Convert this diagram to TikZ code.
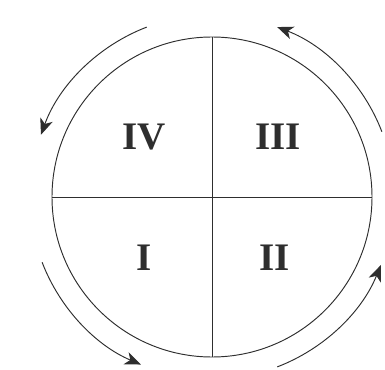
\documentclass[tikz,border=0pt]{standalone}
\usepackage{fontspec}
\setmainfont{Liberation Serif}
\usepackage{xcolor}
\usetikzlibrary{arrows.meta}
\definecolor{ink}{HTML}{2E2E2E}

\begin{document}
\begin{tikzpicture}[
  x=1pt, y=1pt,
  rim/.style={draw=ink, line width=0.95pt},
  turn/.style={draw=ink, line width=0.95pt, -{Stealth[length=16pt,width=13pt,inset=4.5pt]}},
  quad/.style={font=\fontsize{39}{41}\selectfont\bfseries, text=ink}
]

\useasboundingbox (-212,-172) rectangle (173,197);

\def\rin{160}
\def\rout{182}

% wheel and quadrants
\draw[rim] (0,0) circle (\rin);
\coordinate (w) at (-\rin,0);
\coordinate (e) at (\rin,0);
\coordinate (n) at (0,\rin);
\coordinate (s) at (0,-\rin);
\draw[rim] (w) -- (e);
\draw[rim] (n) -- (s);

\node[quad] (q4) at (-68,60)  {IV};
\node[quad] (q3) at (66,60)   {III};
\node[quad] (q1) at (-68,-61) {I};
\node[quad] (q2) at (63,-61)  {II};

% direction of travel
\draw[turn] (111:\rout) arc[start angle=111, end angle=160, radius=\rout];
\draw[turn] (201:\rout) arc[start angle=201, end angle=247, radius=\rout];
\draw[turn] (291:\rout) arc[start angle=291, end angle=338, radius=\rout];
\draw[turn] (21:\rout)  arc[start angle=21,  end angle=69,  radius=\rout];

\end{tikzpicture}
\end{document}
